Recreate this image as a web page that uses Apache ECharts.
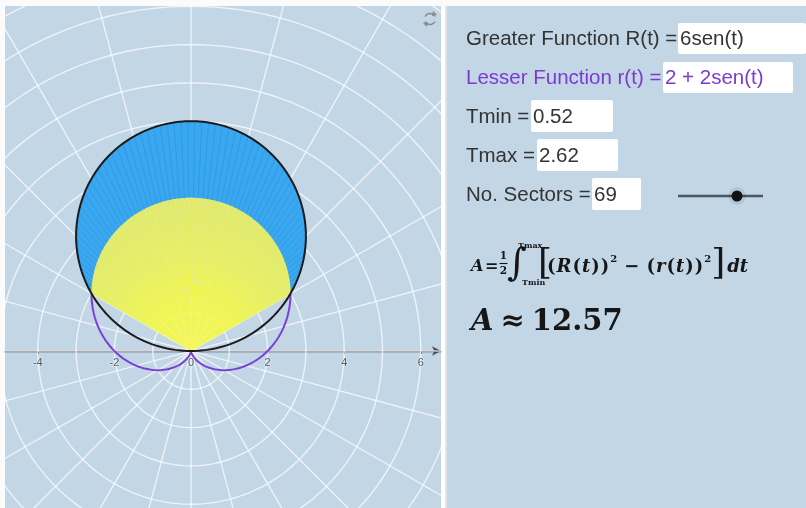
<!DOCTYPE html>
<html>
<head>
<meta charset="utf-8">
<script src="https://cdn.jsdelivr.net/npm/echarts@6/dist/echarts.min.js"></script>
<style>
html,body{margin:0;padding:0;background:#fbfbfb;}
#c{position:absolute;left:0;top:0;width:806px;height:508px;}
</style>
</head>
<body>
<div id="c"></div>
<script>
// ---------------- data ----------------
const xTicks = [-4, -2, 0, 2, 4, 6];
const greaterCoef = [0, 6];      // R(t) = 0 + 6 sen(t)
const lesserCoef = [2, 2];       // r(t) = 2 + 2 sen(t)
const tRange = [0.52, 2.62];     // Tmin, Tmax
const nSectors = [69];
const areaValue = [12.57];
const gridRadii = [1, 2, 3, 4, 5, 6, 7, 8, 9, 10, 11, 12];
const gridAnglesDeg = [0, 15, 30, 45, 60, 75, 90, 105, 120, 135, 150, 165];
const panelLabels = ['Greater Function R(t) =', 'Lesser Function r(t) =', 'Tmin =', 'Tmax =', 'No. Sectors ='];
const panelInputs = ['6sen(t)', '2 + 2sen(t)', '0.52', '2.62', '69'];

// ---------------- view ----------------
const UNIT = 38.3;
const XMIN = (5 - 191) / UNIT, XMAX = (441 - 191) / UNIT;
const YMAX = (351 - 6) / UNIT, YMIN = -(508 - 351) / UNIT;

const R = t => greaterCoef[0] + greaterCoef[1] * Math.sin(t);
const r = t => lesserCoef[0] + lesserCoef[1] * Math.sin(t);
const polar = (f, t) => [f(t) * Math.cos(t), f(t) * Math.sin(t)];

const BG = '#c2d6e6';
const series = [];
const gridLineStyle = { color: 'rgba(255,255,255,0.7)', width: 1.4 };

gridRadii.forEach(rad => {
  const pts = [];
  for (let k = 0; k <= 360; k += 2) {
    const a = k * Math.PI / 180;
    pts.push([rad * Math.cos(a), rad * Math.sin(a)]);
  }
  series.push({ type: 'line', data: pts, symbol: 'none', silent: true, animation: false, z: 1, clip: true, lineStyle: gridLineStyle });
});
gridAnglesDeg.forEach(d => {
  const a = d * Math.PI / 180, L = 14;
  series.push({ type: 'line', data: [[-L * Math.cos(a), -L * Math.sin(a)], [L * Math.cos(a), L * Math.sin(a)]], symbol: 'none', silent: true, animation: false, z: 1, clip: true, lineStyle: gridLineStyle });
});

// sectors
const sectorData = [];
const dt = (tRange[1] - tRange[0]) / nSectors[0];
for (let i = 0; i < nSectors[0]; i++) sectorData.push([tRange[0] + i * dt, tRange[0] + (i + 1) * dt]);

series.push({
  type: 'custom', data: sectorData, z: 2, silent: true, animation: false,
  renderItem(params, api) {
    const t0 = api.value(0), t1 = api.value(1);
    const outer = [], inner = [];
    const steps = 3;
    for (let k = 0; k <= steps; k++) {
      const t = t0 + (t1 - t0) * k / steps;
      outer.push(api.coord(polar(R, t)));
      inner.push(api.coord(polar(r, t)));
    }
    const o = api.coord([0, 0]);
    const unit = api.size([1, 0])[0];
    const grad = new echarts.graphic.RadialGradient(o[0], o[1], unit * 4.1, [
      { offset: 0, color: '#ffff26' },
      { offset: 0.3, color: '#f4f844' },
      { offset: 0.6, color: '#e7ef62' },
      { offset: 1, color: '#dfe970' }
    ], true);
    return {
      type: 'group', children: [
        { type: 'polygon', shape: { points: outer.concat(inner.slice().reverse()) }, style: { fill: '#39a8f1', stroke: '#2a96e2', lineWidth: 0.7 } },
        { type: 'polygon', shape: { points: [o].concat(inner) }, style: { fill: grad, stroke: 'rgba(240,246,110,0.55)', lineWidth: 0.4 } }
      ]
    };
  }
});

// lesser curve (outside the shaded range)
const purplePts = [];
for (let k = 0; k <= 400; k++) {
  const t = tRange[1] + (2 * Math.PI + tRange[0] - tRange[1]) * k / 400;
  purplePts.push(polar(r, t));
}
series.push({ type: 'line', data: purplePts, symbol: 'none', silent: true, animation: false, z: 3, lineStyle: { color: '#7a3fd6', width: 2 } });

// greater curve (circle)
const blackPts = [];
for (let k = 0; k <= 360; k++) {
  const t = Math.PI * k / 360;
  blackPts.push(polar(R, t));
}
series.push({ type: 'line', data: blackPts, symbol: 'none', silent: true, animation: false, z: 4, lineStyle: { color: '#1c1c1c', width: 2 } });

// x-axis tick labels
const SANS = '"Liberation Sans", Arial, sans-serif';
series.push({
  type: 'scatter', data: xTicks.map(v => [v, 0]), symbol: 'circle', symbolSize: 0.01, silent: true, animation: false, z: 5,
  itemStyle: { color: 'rgba(0,0,0,0)' },
  label: { show: true, position: 'bottom', distance: 6, color: '#3a3a3a', fontSize: 11, fontFamily: SANS,
    textBorderColor: 'rgba(255,255,255,0.35)', textBorderWidth: 2,
    formatter: p => { const v = p.value[0]; return v < 0 ? '-' + Math.abs(v) : String(v); } }
});

// ---------------- right panel ----------------
const mctx = document.createElement('canvas').getContext('2d');
function tw(text, font) { mctx.font = font; return mctx.measureText(text).width; }

const SERIF = '"DejaVu Serif", serif';
const TXT = '#333333';
const PURPLE = '#7a3cd0';
const INK = '#161616';
const gfx = [];

gfx.push({ type: 'rect', shape: { x: 447, y: 6, width: 359, height: 502 }, style: { fill: BG }, silent: true });
gfx.push({ type: 'rect', shape: { x: 441, y: 6, width: 4, height: 502 }, style: { fill: '#ffffff' }, silent: true });
gfx.push({ type: 'rect', shape: { x: 445, y: 6, width: 2, height: 502 }, style: { fill: '#dfe5ea' }, silent: true });

const rows = [
  { y: 39, box: [678, 23, 128, 31], col: TXT },
  { y: 78, box: [663, 62, 130, 31], col: PURPLE },
  { y: 117, box: [531, 100, 82, 32], col: TXT },
  { y: 156, box: [537, 139, 81, 32], col: TXT },
  { y: 195, box: [592, 178, 49, 32], col: TXT }
];
const labelFont = '20.5px ' + SANS;
rows.forEach((rw, i) => {
  gfx.push({ type: 'rect', shape: { x: rw.box[0], y: rw.box[1], width: rw.box[2], height: rw.box[3], r: 2 }, style: { fill: '#ffffff' }, silent: true });
  gfx.push({ type: 'text', x: 466, y: rw.y, style: { text: panelLabels[i], font: labelFont, fill: rw.col, textAlign: 'left', textVerticalAlign: 'middle' }, silent: true });
  gfx.push({ type: 'text', x: rw.box[0] + 2, y: rw.y, style: { text: panelInputs[i], font: labelFont, fill: rw.col, textAlign: 'left', textVerticalAlign: 'middle' }, silent: true });
});

// slider
gfx.push({ type: 'line', shape: { x1: 678, y1: 196, x2: 763, y2: 196 }, style: { stroke: '#4b5661', lineWidth: 2.6 }, silent: true });
gfx.push({ type: 'circle', shape: { cx: 737, cy: 196, r: 9 }, style: { fill: 'rgba(0,0,0,0.07)' }, silent: true });
gfx.push({ type: 'circle', shape: { cx: 737, cy: 196, r: 5.5 }, style: { fill: '#111111' }, silent: true });

// formula
const fB = s => 'bold ' + s + 'px ' + SERIF;
const fBI = s => 'italic bold ' + s + 'px ' + SERIF;
function txt(x, y, t, font, align) {
  gfx.push({ type: 'text', x: x, y: y, style: { text: t, font: font, fill: INK, textAlign: align || 'left', textVerticalAlign: 'middle' }, silent: true });
}
function seq(x, y, segs, spacing) {
  let cx = x;
  segs.forEach(s => {
    if (s.gap) { cx += s.gap; }
    if (s.t) { txt(cx, y + (s.dy || 0), s.t, s.f); cx += tw(s.t, s.f) + (spacing || 0); }
  });
  return cx;
}
const FY = 267;
txt(471, FY, 'A', fBI(16));
txt(485, FY, '=', fB(16));
txt(503.5, 256, '1', fB(10.5), 'center');
gfx.push({ type: 'line', shape: { x1: 499.5, y1: 263.5, x2: 507.5, y2: 263.5 }, style: { stroke: INK, lineWidth: 1.1 }, silent: true });
txt(503.5, 271.5, '2', fB(10.5), 'center');
txt(507, 265, '∫', '38px ' + SERIF);
txt(518, 246, 'Tmax', fB(8));
txt(522, 283, 'Tmin', fB(8));
txt(538, 265, '[', '36px ' + SERIF);
const F = 18;
let ex = seq(547, FY, [
  { t: '(', f: fB(F) }, { t: 'R', f: fBI(F) }, { t: '(', f: fB(F) }, { t: 't', f: fBI(F) }, { t: ')', f: fB(F) }, { t: ')', f: fB(F) },
  { t: '2', f: fB(10), dy: -8 },
  { gap: 6, t: '−', f: fB(F) }, { gap: 6, t: '(', f: fB(F) }, { t: 'r', f: fBI(F) }, { t: '(', f: fB(F) }, { t: 't', f: fBI(F) }, { t: ')', f: fB(F) }, { t: ')', f: fB(F) },
  { t: '2', f: fB(10), dy: -8 }
], 1);
txt(ex - 1, 265, ']', '36px ' + SERIF);
seq(ex + 15, FY, [{ t: 'dt', f: fBI(F) }]);

// A ≈ 12.57
seq(471, 322, [{ t: 'A', f: fBI(29) }, { gap: 7, t: '≈', f: fB(29) }, { gap: 7, t: String(areaValue[0]), f: fB(29) }]);

// reset icon
gfx.push({ type: 'arc', shape: { cx: 430, cy: 19, r: 5.5, startAngle: Math.PI * 0.15, endAngle: Math.PI * 0.85 }, style: { stroke: '#8a8a8a', lineWidth: 1.5, fill: null }, silent: true });
gfx.push({ type: 'arc', shape: { cx: 430, cy: 19, r: 5.5, startAngle: Math.PI * 1.15, endAngle: Math.PI * 1.85 }, style: { stroke: '#8a8a8a', lineWidth: 1.5, fill: null }, silent: true });
gfx.push({ type: 'polygon', shape: { points: [[433, 11], [437, 15], [432, 16]] }, style: { fill: '#8a8a8a' }, silent: true });
gfx.push({ type: 'polygon', shape: { points: [[427, 27], [423, 23], [428, 22]] }, style: { fill: '#8a8a8a' }, silent: true });

const chart = echarts.init(document.getElementById('c'), null, { renderer: 'canvas' });
chart.setOption({
  backgroundColor: '#fbfbfb',
  animation: false,
  grid: { left: 5, top: 6, width: 436, height: 502, show: true, backgroundColor: BG, borderWidth: 0, containLabel: false, outerBoundsMode: 'none' },
  xAxis: {
    type: 'value', min: XMIN, max: XMAX,
    splitLine: { show: false },
    axisLine: { onZero: true, symbol: ['none', 'arrow'], symbolSize: [7, 9], lineStyle: { color: '#4a4f55', width: 1.4 } },
    axisTick: { show: true, customValues: xTicks, length: 3, inside: false, lineStyle: { color: '#4a4f55' } },
    axisLabel: { show: false }
  },
  yAxis: { type: 'value', min: YMIN, max: YMAX, show: false, splitLine: { show: false } },
  series: series,
  graphic: { elements: gfx }
});
</script>
</body>
</html>
